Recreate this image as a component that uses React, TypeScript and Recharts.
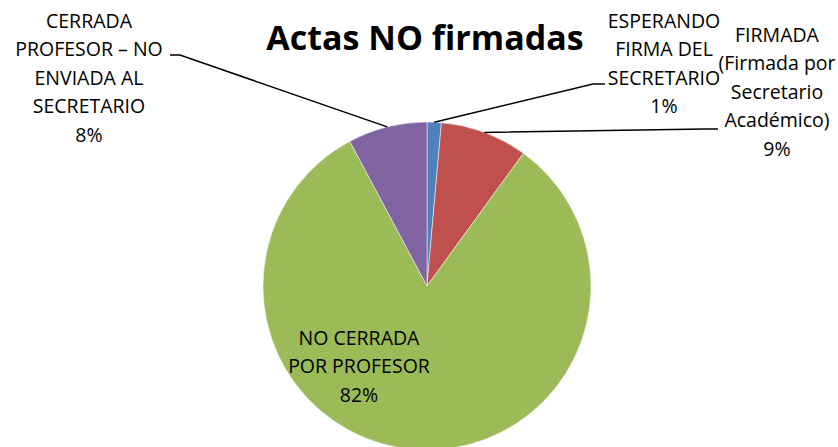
import { PieChart, Pie, Cell } from 'recharts'

const CATEGORIES = [
  'ESPERANDO\nFIRMA DEL\nSECRETARIO',
  'FIRMADA\n(Firmada por\nSecretario\nAcadémico)',
  'NO CERRADA\nPOR PROFESOR',
  'CERRADA\nPROFESOR – NO\nENVIADA AL\nSECRETARIO',
]
const VALUES = [1.4, 8.6, 82.2, 7.8]
const COLORS = ['#4F81BD', '#C0504D', '#9BBB59', '#8064A2']

const data = CATEGORIES.map((name, i) => ({ name, value: VALUES[i] }))

// where each data label sits, relative to the pie centre
const LABEL_POS: Array<{ x: number; y: number; elbow?: [number, number]; stub?: number }> = [
  { x: 237, y: -258, elbow: [166, -202], stub: 178 },
  { x: 350, y: -244, elbow: [278, -157], stub: 291 },
  { x: -68, y: 59 },
  { x: -338, y: -258, elbow: [-247, -231], stub: -257 },
]

const FONT = '"Open Sans", sans-serif'
const LINE_H = 28.4
const RAD = Math.PI / 180

const renderLabel = (props: any) => {
  const { cx, cy, midAngle, outerRadius, percent, index } = props
  const pos = LABEL_POS[index]
  const lines = [...CATEGORIES[index].split('\n'), `${Math.round(percent * 100)}%`]
  const sx = cx + outerRadius * Math.cos(-midAngle * RAD)
  const sy = cy + outerRadius * Math.sin(-midAngle * RAD)
  const tx = cx + pos.x
  const ty = cy + pos.y
  return (
    <g key={`lbl-${index}`}>
      {pos.elbow && (
        <polyline
          points={`${sx},${sy} ${cx + pos.elbow[0]},${cy + pos.elbow[1]} ${cx + pos.stub!},${cy + pos.elbow[1]}`}
          fill="none"
          stroke="#000"
          strokeWidth={1.5}
        />
      )}
      <text textAnchor="middle" fontFamily={FONT} fontSize={19.5} fill="#000">
        {lines.map((l, i) => (
          <tspan key={i} x={tx} y={ty + i * LINE_H}>
            {l}
          </tspan>
        ))}
      </text>
    </g>
  )
}

export default function App() {
  return (
    <div style={{ position: 'absolute', left: 0, top: 0, width: 838, height: 447, overflow: 'hidden', background: '#fff' }}>
      <PieChart width={838} height={447} margin={{ top: 0, right: 0, bottom: 0, left: 0 }}>
        <text x={425} y={50} textAnchor="middle" fontFamily={FONT} fontWeight="bold" fontSize={34} fill="#000">
          Actas NO firmadas
        </text>
        <Pie
          data={data}
          dataKey="value"
          nameKey="name"
          cx={427}
          cy={286}
          outerRadius={164}
          startAngle={90}
          endAngle={-270}
          stroke="#fff"
          strokeWidth={0.5}
          label={renderLabel}
          labelLine={false}
          isAnimationActive={false}
        >
          {data.map((d, i) => (
            <Cell key={d.name} fill={COLORS[i]} />
          ))}
        </Pie>
      </PieChart>
    </div>
  )
}
